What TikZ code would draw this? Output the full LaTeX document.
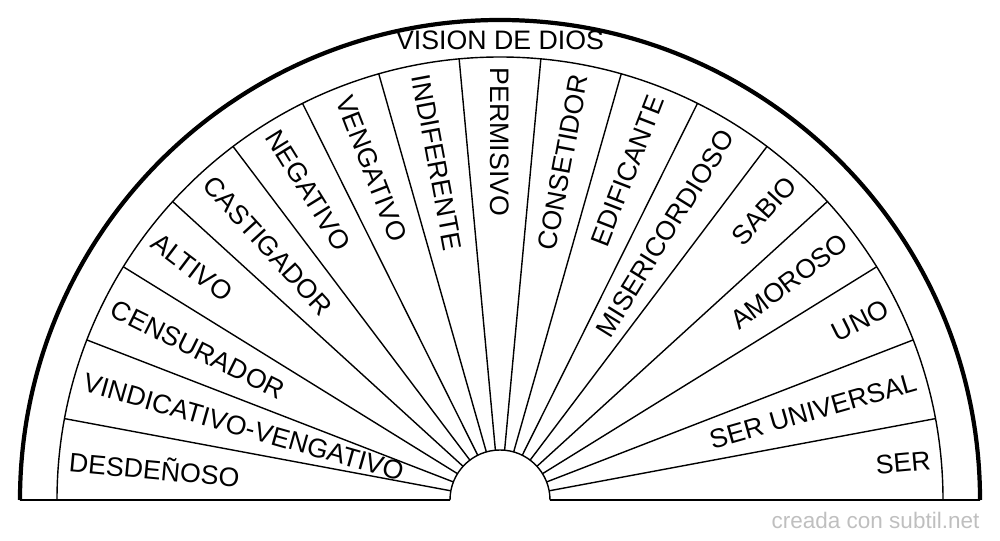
\documentclass[tikz,border=0pt]{standalone}
\usepackage{fontspec}
\setmainfont{Liberation Sans}
\begin{document}
\begin{tikzpicture}[font=\fontsize{7.6}{8.5}\selectfont,
    lbl/.style={inner sep=0pt}]
  \useasboundingbox (-5,-0.4) rectangle (5,5);
  \def\dang{180/17}
  % outline
  \draw[line width=1.2pt] (-4.8,0) arc (180:0:4.8);
  \draw (-4.43,0) arc (180:0:4.43);
  \draw (-0.5,0) arc (180:0:0.5);
  \draw (-4.8,0) -- (-0.5,0);
  \draw (0.5,0) -- (4.8,0);
  % sectors
  \foreach \i in {1,...,16}
    \draw ({180-\i*\dang}:0.5) -- ({180-\i*\dang}:4.43);
  \node[lbl] (titulo) at (0,4.6) {VISION DE DIOS};
  % left labels
  \foreach \t [count=\i from 0] in {DESDEÑOSO,VINDICATIVO-VENGATIVO,CENSURADOR,ALTIVO,CASTIGADOR,NEGATIVO,VENGATIVO,INDIFERENTE,PERMISIVO}
    \node[lbl,anchor=west,rotate={180-(\i+0.5)*\dang-180}] (l\i) at ({180-(\i+0.5)*\dang}:4.33) {\t};
  % right labels
  \foreach \t [count=\i from 9] in {CONSETIDOR,EDIFICANTE,MISERICORDIOSO,SABIO,AMOROSO,UNO,SER UNIVERSAL,SER}
    \node[lbl,anchor=east,rotate={180-(\i+0.5)*\dang}] (r\i) at ({180-(\i+0.5)*\dang}:4.33) {\t};
  \node[lbl,anchor=east,text=black!25,font=\fontsize{6.4}{7}\selectfont] (marca) at (4.8,-0.2) {creada con subtil.net};
\end{tikzpicture}
\end{document}
